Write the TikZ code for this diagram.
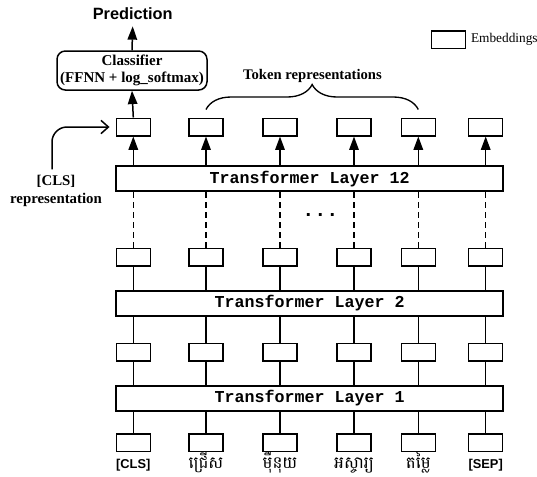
\documentclass[tikz,border=0pt]{standalone}
\usepackage{fontspec}
\setmainfont{Liberation Serif}
\setsansfont{Liberation Sans}
\setmonofont{Liberation Mono}
\newfontfamily\khmerfont[Script=Khmer]{Battambang}
\usetikzlibrary{arrows.meta,positioning,calc,decorations.pathreplacing}

\begin{document}
\begin{tikzpicture}[x=0.6pt,y=-0.6pt,line width=0.9pt]
    \tikzset{emb/.style={draw,minimum width=20.4pt,minimum height=10.5pt,inner sep=0pt},
      layer/.style={draw,minimum width=232.2pt,minimum height=15pt,inner sep=0pt,
        font=\fontsize{10}{12}\selectfont\ttfamily\bfseries},
      tok/.style={font=\fontsize{7.7}{9}\selectfont\sffamily\bfseries,inner sep=0pt},
      kh/.style={font=\fontsize{10}{12}\selectfont\khmerfont,inner sep=0pt},
      up/.style={-{Triangle[length=8pt,width=5.7pt]}}}
    \useasboundingbox (0,0) rectangle (537,476);
    \node[layer] (L1) at (309.7,398.3) {Transformer Layer 1};
    \node[layer] (L2) at (309.7,303.3) {Transformer Layer 2};
    \node[layer] (L12) at (309.7,178.7) {Transformer Layer 12};
    \foreach \x [count=\i] in {133.3,206,280,354,418.3,485.7}{
      \node[emb] (a\i) at (\x,442.5) {};
      \node[emb] (b\i) at (\x,352) {};
      \node[emb] (c\i) at (\x,257) {};
      \node[emb] (d\i) at (\x,127) {};
      \draw (a\i.north) -- (a\i.north |- L1.south);
      \draw (L1.north -| b\i) -- (b\i.south);
      \draw (b\i.north) -- (b\i.north |- L2.south);
      \draw (L2.north -| c\i) -- (c\i.south);
      \draw[dash pattern=on 3.6pt off 2.4pt] (c\i.north) -- (c\i.north |- L12.south);
      \draw[up] (L12.north -| d\i) -- (d\i.south);
    }
    \node[font=\fontsize{12}{14}\selectfont\ttfamily\bfseries,anchor=base] (dots) at (320.5,216) {...};
    % input tokens
    \node[tok,anchor=base] (w1) at (133.3,468.5) {[CLS]};
    \node[kh,anchor=base] (w2) at (206,468.5) {ជ្រើស};
    \node[kh,anchor=base] (w3) at (280,468.5) {ម៉ឺនុយ};
    \node[kh,anchor=base] (w4) at (354,468.5) {អស្ចារ្យ};
    \node[kh,anchor=base] (w5) at (418.3,468.5) {តម្លៃ};
    \node[tok,anchor=base] (w6) at (485.7,468.5) {[SEP]};
    % classifier on top of [CLS]
    \node[draw,rounded corners=5pt,minimum width=90pt,minimum height=23.4pt,inner sep=1pt,align=center,
      font=\fontsize{9}{10.2}\selectfont\bfseries] (clf) at (132,70.5) {Classifier\\(FFNN + log\_softmax)};
    \node[font=\fontsize{9.8}{12}\selectfont\sffamily\bfseries] (pred) at (132.7,14) {Prediction};
    \draw[up] (d1.north) -- (clf.south);
    \draw[up] (clf.north) -- (pred.south);
    \node[align=center,font=\fontsize{8.9}{10.3}\selectfont\bfseries] (clsrep) at (56,191) {[CLS]\\representation};
    \draw[rounded corners=9pt,-{Straight Barb[length=4.5pt,width=8pt]}] ([xshift=-2.4pt]clsrep.north) |- ([xshift=-3.6pt]d1.west);
    \node[font=\fontsize{8.8}{10}\selectfont\bfseries] (toklbl) at (312.5,76) {Token representations};
    \draw[line width=0.8pt,decorate,decoration={brace,amplitude=15pt}] ([yshift=4.8pt]d2.north) -- ([yshift=4.8pt]d5.north);
    % legend
    \node[emb] (leg) at (448.5,39.5) {};
    \node[right=2.4pt of leg,inner sep=0pt,font=\fontsize{8}{9.6}\selectfont] (legtxt) {Embeddings};
\end{tikzpicture}
\end{document}
